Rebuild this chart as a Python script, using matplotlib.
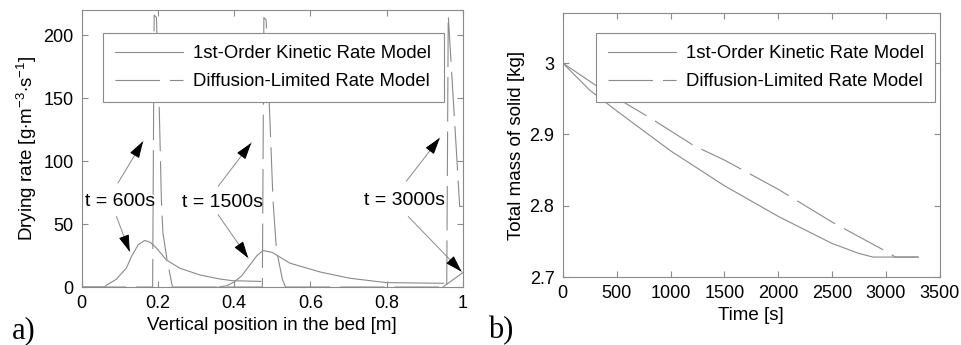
import numpy as np
import matplotlib.pyplot as plt

plt.rcParams['font.family'] = ['Liberation Sans', 'DejaVu Sans']
plt.rcParams['mathtext.fontset'] = 'custom'
plt.rcParams['mathtext.rm'] = 'Liberation Sans'

# panel a) drying rate profiles along the bed
kin_x1 = [0, 0.06, 0.065, 0.09, 0.117, 0.13, 0.148, 0.165, 0.18, 0.196, 0.222, 0.257, 0.31, 0.362, 0.397, 0.47]
kin_y1 = [0, 0, 1.6, 6, 15, 24, 33.5, 37, 35.5, 31, 21.5, 15, 9.6, 6.4, 5, 4.5]
kin_x2 = [0.36, 0.38, 0.40, 0.42, 0.44, 0.46, 0.476, 0.50, 0.546, 0.625, 0.703, 0.80, 0.95]
kin_y2 = [0, 1, 4, 9, 17, 25, 29, 27.5, 19, 12, 7, 3.5, 3]
kin_x3 = [0.948, 1.0]
kin_y3 = [0, 11.4]

dif_x1 = [0, 0.186, 0.19, 0.196, 0.203, 0.209, 0.213, 0.224, 0.238]
dif_y1 = [0, 0, 216, 214, 147, 69, 43, 21.5, 0]
dif_x2 = [0.238, 0.474, 0.478, 0.484, 0.492, 0.502, 0.511, 0.527, 0.535]
dif_y2 = [0, 0, 214, 212, 147, 69, 29.5, 5.6, 0]
dif_x3 = [0.535, 0.958, 0.962, 0.975, 0.985, 0.992, 1.0]
dif_y3 = [0, 0, 216, 150, 100, 64, 64]

# panel b) total mass of solid
t_kin = [0, 250, 500, 1000, 1500, 2000, 2500, 2750, 2880, 3300]
m_kin = [3.0, 2.962, 2.933, 2.877, 2.828, 2.785, 2.747, 2.733, 2.728, 2.728]
t_dif = [0, 294, 500, 812, 1219, 1500, 2000, 2500, 3000, 3090, 3300]
m_dif = [3.0, 2.970, 2.951, 2.923, 2.884, 2.864, 2.823, 2.777, 2.736, 2.728, 2.728]

labels = ['1st-Order Kinetic Rate Model', 'Diffusion-Limited Rate Model']
gray = '#8a8a8a'
dash = (0, (40, 9))
lw = 0.8

fig = plt.figure(figsize=(9.62, 3.45), dpi=100)
ax1 = fig.add_axes([0.085, 0.168, 0.396, 0.803])
ax2 = fig.add_axes([0.585, 0.197, 0.392, 0.765])


def style(ax):
    for s in ax.spines.values():
        s.set_color(gray)
        s.set_linewidth(0.8)
    ax.tick_params(direction='in', top=True, right=True, color=gray,
                   length=4, width=0.8, labelsize=13, pad=6)


def arrow(ax, x0, y0, x1, y1):
    ax.annotate('', xy=(x1, y1), xytext=(x0, y0),
                arrowprops=dict(arrowstyle='-', color=gray, lw=0.7, shrinkA=0, shrinkB=0))
    f = 0.85
    ax.annotate('', xy=(x1, y1), xytext=(x0 + f * (x1 - x0), y0 + f * (y1 - y0)),
                arrowprops=dict(arrowstyle='-|>,head_length=0.8,head_width=0.25',
                                color='black', lw=0.7, shrinkA=0, shrinkB=0,
                                mutation_scale=13))


style(ax1)
ax1.plot(kin_x1, kin_y1, color=gray, lw=lw, label=labels[0])
ax1.plot(kin_x2, kin_y2, color=gray, lw=lw)
ax1.plot(kin_x3, kin_y3, color=gray, lw=lw)
ax1.plot(dif_x1, dif_y1, color=gray, lw=lw, ls=dash, label=labels[1])
ax1.plot(dif_x2, dif_y2, color=gray, lw=lw, ls=dash)
ax1.plot(dif_x3, dif_y3, color=gray, lw=lw, ls=dash)
ax1.set_xlim(0, 1)
ax1.set_ylim(0, 220)
ax1.set_xticks([0, 0.2, 0.4, 0.6, 0.8, 1])
ax1.set_xticklabels(['0', '0.2', '0.4', '0.6', '0.8', '1'])
ax1.set_yticks([0, 50, 100, 150, 200])
ax1.set_xlabel('Vertical position in the bed [m]', fontsize=13.5, labelpad=3)
ax1.set_ylabel(r'Drying rate [g$\cdot$m$^{-3}$$\cdot$s$^{-1}$]', fontsize=13.5, labelpad=3)

ax1.text(0.1, 68, 't = 600s', ha='center', va='center', fontsize=14)
ax1.text(0.369, 67, 't = 1500s', ha='center', va='center', fontsize=14)
ax1.text(0.848, 69, 't = 3000s', ha='center', va='center', fontsize=14)
arrow(ax1, 0.095, 82.6, 0.161, 115.8)
arrow(ax1, 0.091, 56, 0.126, 28)
arrow(ax1, 0.358, 80, 0.445, 114.5)
arrow(ax1, 0.358, 57.4, 0.437, 23)
arrow(ax1, 0.852, 84, 0.94, 118.5)
arrow(ax1, 0.857, 56, 0.997, 12.2)

leg_kw = dict(loc='upper left', mode='expand', fontsize=13.3, handlelength=3.7,
              fancybox=False, edgecolor=gray, framealpha=1, borderpad=0.65,
              labelspacing=0.6, borderaxespad=0, handletextpad=0.55)
leg1 = ax1.legend(bbox_to_anchor=(0.055, 0.675, 0.895, 0.242), **leg_kw)
leg1.get_frame().set_linewidth(0.8)

style(ax2)
ax2.plot(t_kin, m_kin, color=gray, lw=lw, label=labels[0])
ax2.plot(t_dif, m_dif, color=gray, lw=lw, ls=dash, label=labels[1])
ax2.set_xlim(0, 3500)
ax2.set_ylim(2.7, 3.07)
ax2.set_xticks(np.arange(0, 3501, 500))
ax2.set_yticks([2.7, 2.8, 2.9, 3.0])
ax2.set_yticklabels(['2.7', '2.8', '2.9', '3'])
ax2.set_xlabel('Time [s]', fontsize=13.5, labelpad=3)
ax2.set_ylabel('Total mass of solid [kg]', fontsize=13.5, labelpad=3)
leg2 = ax2.legend(bbox_to_anchor=(0.0875, 0.674, 0.9, 0.25), **leg_kw)
leg2.get_frame().set_linewidth(0.8)

fig.text(0.012, 0.02, 'a)', family='Liberation Serif', fontsize=22)
fig.text(0.507, 0.02, 'b)', family='Liberation Serif', fontsize=22)

fig.savefig('out.png', dpi=100)
